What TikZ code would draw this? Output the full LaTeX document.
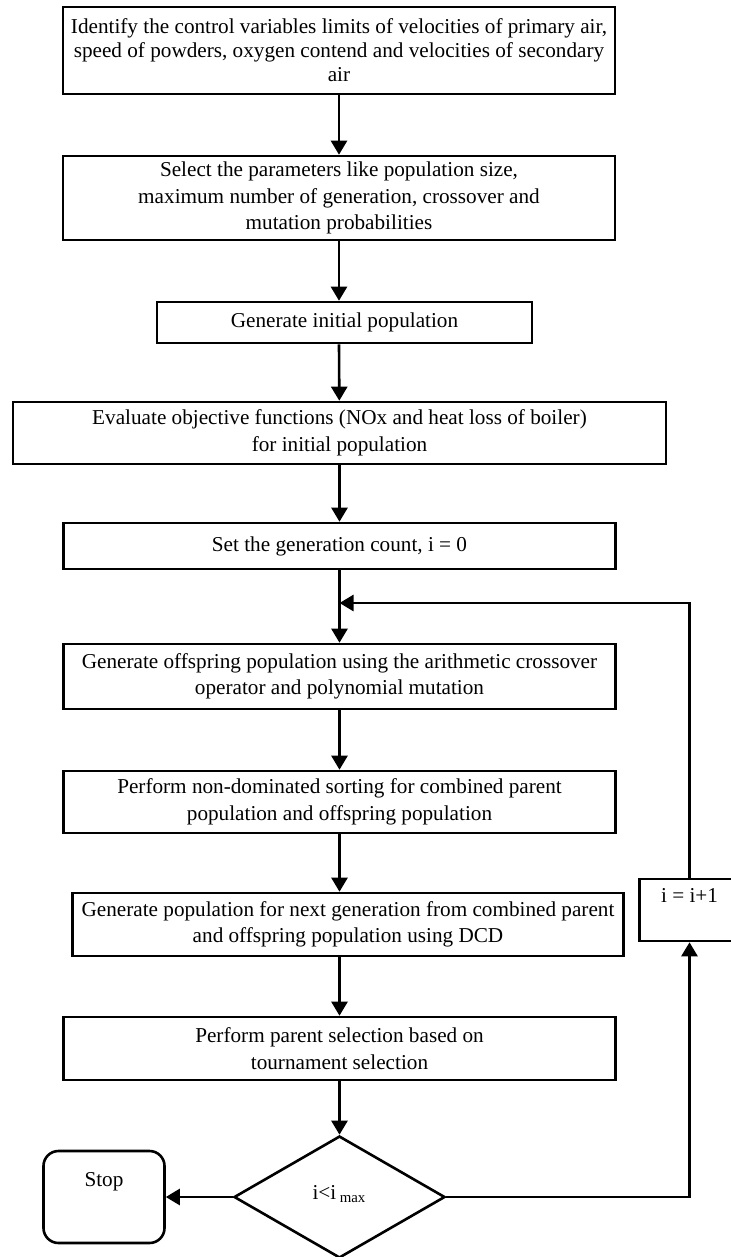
\documentclass[tikz,border=0pt]{standalone}
\usepackage{fontspec}
\setmainfont{Liberation Serif}
\usetikzlibrary{shapes.geometric,arrows.meta}

\begin{document}
\begin{tikzpicture}[node distance=62pt, line width=1.3pt,
    font=\fontsize{10.6}{13.3}\selectfont,
    block/.style={draw, rectangle, align=center, inner sep=0pt, minimum width=276pt},
    decision/.style={draw, diamond, inner sep=0pt, minimum width=105.5pt, minimum height=61pt},
    terminal/.style={draw, rectangle, rounded corners=7.5pt, inner sep=0pt, minimum width=60.5pt},
    arrow/.style={-{Triangle[length=7pt,width=8pt]}}]
    \useasboundingbox (0,0) rectangle (365pt,-628.5pt);

	\node[block, minimum height=43.5pt, font=\fontsize{10.6}{12}\selectfont] (limits) at (169.5pt,-25.25pt) {Identify the control variables limits of velocities of primary air,\\ speed of powders, oxygen contend and velocities of secondary\\ air};
	\node[block, below of=limits, node distance=73.75pt, minimum height=42pt] (params) {Select the parameters like population size,\\ maximum number of generation, crossover and\\ mutation probabilities};
	\node[block, below of=params, node distance=62.25pt, xshift=2.75pt, minimum width=187.5pt, minimum height=20.5pt] (initpop) {Generate initial population};
	\node[block, below of=initpop, node distance=55.25pt, xshift=-2.5pt, minimum width=326.5pt, minimum height=31pt] (evaluate) {Evaluate objective functions (NOx and heat loss of boiler)\\ for initial population};
	\node[block, below of=evaluate, node distance=56.5pt, minimum height=23pt] (gencount) {Set the generation count, i = 0};
    \coordinate[below of=gencount, node distance=28.5pt] (vloop);

    \draw[arrow] (limits) -- (params);
    \draw[arrow] (params) -- (params |- initpop.north);
    \draw[arrow] (params |- initpop.south) -- (evaluate);
    \draw[arrow] (evaluate) -- (gencount);

	\node[block, below of=gencount, node distance=65.25pt, minimum height=32.5pt] (offspring) {Generate offspring population using the arithmetic crossover\\ operator and polynomial mutation};
	\node[block, below of=offspring, node distance=62.75pt, minimum height=31pt] (sorting) {Perform non-dominated sorting for combined parent\\ population and offspring population};
	\node[block, below of=sorting, node distance=61.25pt, xshift=4.25pt, minimum width=275.5pt, minimum height=31.5pt] (nextgen) {Generate population for next generation from combined parent\\ and offspring population using DCD};
	\node[block, below of=nextgen, node distance=62pt, xshift=-4.25pt, minimum height=31.5pt] (parentsel) {Perform parent selection based on\\ tournament selection};

    \draw[arrow] (gencount) -- (offspring);
    \draw[arrow] (offspring) -- (sorting);
    \draw[arrow] (sorting) -- (sorting |- nextgen.north);
    \draw[arrow] (sorting |- nextgen.south) -- (parentsel);

	\node[decision, below of=parentsel, node distance=74.25pt] (check) {\raisebox{5pt}{i<i\,\textsubscript{max}}};
	\node[terminal, left of=check, node distance=117.75pt, text height=17.5pt, text depth=28.5pt] (stop) {Stop};
	\node[block, right of=nextgen, node distance=170.75pt, yshift=7.25pt, minimum width=50pt, text height=11.5pt, text depth=19.5pt] (incr) {i = i+1};

    \draw[arrow] (parentsel) -- (check);
    \draw[arrow] (check) -- (stop);
    \draw[arrow] (check.east) -| (incr);
    \draw[arrow] (incr) |- (vloop);
\end{tikzpicture}
\end{document}
